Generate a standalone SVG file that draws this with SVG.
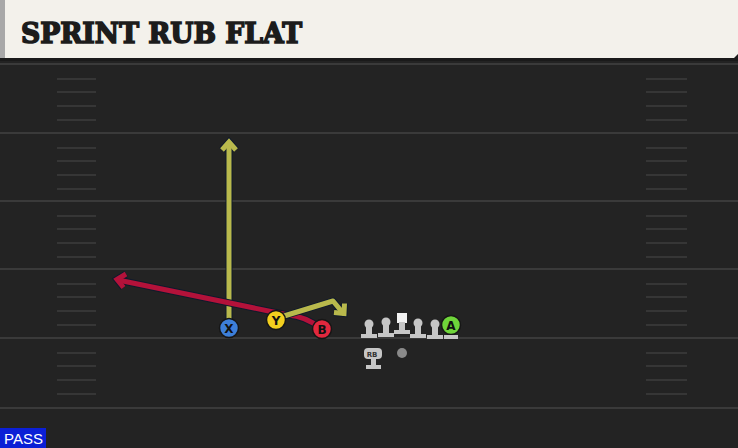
<svg xmlns="http://www.w3.org/2000/svg" width="738" height="448" viewBox="0 0 738 448">
<style>
.yl{stroke:#3a3a3a;stroke-width:2}
.hm{stroke:#363636;stroke-width:2}
.lab{font-family:"DejaVu Sans","Liberation Sans",sans-serif;font-weight:bold;font-size:12px;fill:#111;text-anchor:middle}
.pl{fill:#c6c6c6}
.rt{fill:none;stroke-linecap:round;stroke-linejoin:round}
.ah{fill:none;stroke-linecap:butt;stroke-linejoin:miter}
.o{stroke:#0f1a2c;stroke-width:7}
.y{stroke:#b9b94c;stroke-width:5}
.r{stroke:#b3123a;stroke-width:5}
</style>
<rect width="738" height="448" fill="#232323"/>
<!-- header -->
<rect x="0" y="0" width="738" height="61" fill="#1a1a1a"/>
<path d="M0,0 H738 V54 L734,58 H0 Z" fill="#f3f1eb"/>
<rect x="0" y="0" width="5" height="58" fill="#a8a8a8"/>
<text x="21" y="43" font-family="'DejaVu Serif','Liberation Serif',serif" font-weight="bold" font-size="28" fill="#1c1c1c" stroke="#1c1c1c" stroke-width="1.6" textLength="281" lengthAdjust="spacingAndGlyphs">SPRINT RUB FLAT</text>
<!-- field lines -->
<g id="field">
<line class="yl" x1="0" y1="64" x2="738" y2="64"/>
<line class="yl" x1="0" y1="133" x2="738" y2="133"/>
<line class="yl" x1="0" y1="201" x2="738" y2="201"/>
<line class="yl" x1="0" y1="269" x2="738" y2="269"/>
<line class="yl" x1="0" y1="338" x2="738" y2="338"/>
<line class="yl" x1="0" y1="408" x2="738" y2="408"/>
<g id="hash">
<path class="hm" d="M57,79H96M57,92H96M57,106H96M57,120H96M57,148H96M57,161H96M57,175H96M57,189H96M57,216H96M57,229H96M57,243H96M57,257H96M57,284H96M57,297H96M57,311H96M57,325H96M57,353H96M57,366H96M57,380H96M57,394H96"/>
<path class="hm" d="M646,79H687M646,92H687M646,106H687M646,120H687M646,148H687M646,161H687M646,175H687M646,189H687M646,216H687M646,229H687M646,243H687M646,257H687M646,284H687M646,297H687M646,311H687M646,325H687M646,353H687M646,366H687M646,380H687M646,394H687"/>
</g>
</g>
<!-- connectors -->
<g id="routes">
<path class="rt o" d="M229,322 V143"/>
<path class="ah o" d="M222,150 L229,142 L236,150"/>
<path class="rt y" d="M229,322 V143"/>
<path class="ah y" d="M222,150 L229,142 L236,150"/>
<path class="rt o" d="M322,329 Q305,316 288,315 L118,280"/>
<path class="ah o" d="M126,274 L117,279.5 L123.5,287.5"/>
<path class="rt r" d="M322,329 Q305,316 288,315 L118,280"/>
<path class="ah r" d="M126,274 L117,279.5 L123.5,287.5"/>
<path class="rt o" d="M284,316 L333,301 L343,313"/>
<path class="ah o" d="M344.5,303.5 L344,313.5 L334,312.5"/>
<path class="rt y" d="M284,316 L333,301 L343,313"/>
<path class="ah y" d="M344.5,303.5 L344,313.5 L334,312.5"/>
</g>
<!-- players -->
<g id="X"><circle cx="229" cy="328" r="9.5" fill="#3d7fd9" stroke="#161616" stroke-width="1.5"/><text class="lab" x="229" y="332.5">X</text></g>
<g id="Y"><circle cx="276" cy="320" r="9.5" fill="#f3cf1e" stroke="#161616" stroke-width="1.5"/><text class="lab" x="276" y="324.5">Y</text></g>
<g id="B"><circle cx="322" cy="329" r="9.5" fill="#e2283e" stroke="#161616" stroke-width="1.5"/><text class="lab" x="322" y="333.5">B</text></g>
<g id="A"><circle cx="451" cy="325" r="9.5" fill="#6fd53a" stroke="#161616" stroke-width="1.5"/><text class="lab" x="451" y="329.5">A</text><rect class="pl" x="444" y="335" width="14" height="4"/></g>
<g id="LT"><circle class="pl" cx="369" cy="324" r="4.5"/><rect class="pl" x="366" y="324" width="6" height="11"/><rect class="pl" x="361" y="334" width="16" height="4"/></g>
<g id="LG"><circle class="pl" cx="386" cy="322" r="4.5"/><rect class="pl" x="383" y="322" width="6" height="12"/><rect class="pl" x="378" y="333" width="16" height="4"/></g>
<g id="C"><rect x="397" y="313" width="10" height="10" fill="#f2f2f2"/><rect class="pl" x="399" y="322" width="6" height="9"/><rect class="pl" x="394" y="330" width="16" height="4"/></g>
<g id="RG"><circle class="pl" cx="418" cy="323" r="4.5"/><rect class="pl" x="415" y="323" width="6" height="12"/><rect class="pl" x="410" y="334" width="16" height="4"/></g>
<g id="RT"><circle class="pl" cx="435" cy="324" r="4.5"/><rect class="pl" x="432" y="324" width="6" height="12"/><rect class="pl" x="427" y="335" width="16" height="4"/></g>
<g id="RB"><rect class="pl" x="364" y="348" width="18" height="11" rx="4"/><text x="372" y="357" font-family="'DejaVu Sans','Liberation Sans',sans-serif" font-size="7" font-weight="bold" fill="#333" text-anchor="middle">RB</text><rect class="pl" x="371" y="358" width="5" height="8"/><rect class="pl" x="366" y="365" width="15" height="4"/></g>
<g id="QB"><circle cx="402" cy="353" r="5" fill="#8a8a8a"/></g>
<!-- PASS label -->
<g id="pass"><rect x="0" y="428" width="46" height="20" fill="#0b1fd6"/><text x="4" y="444" font-family="'Liberation Sans','DejaVu Sans',sans-serif" font-size="15" fill="#ffffff">PASS</text></g>
</svg>
